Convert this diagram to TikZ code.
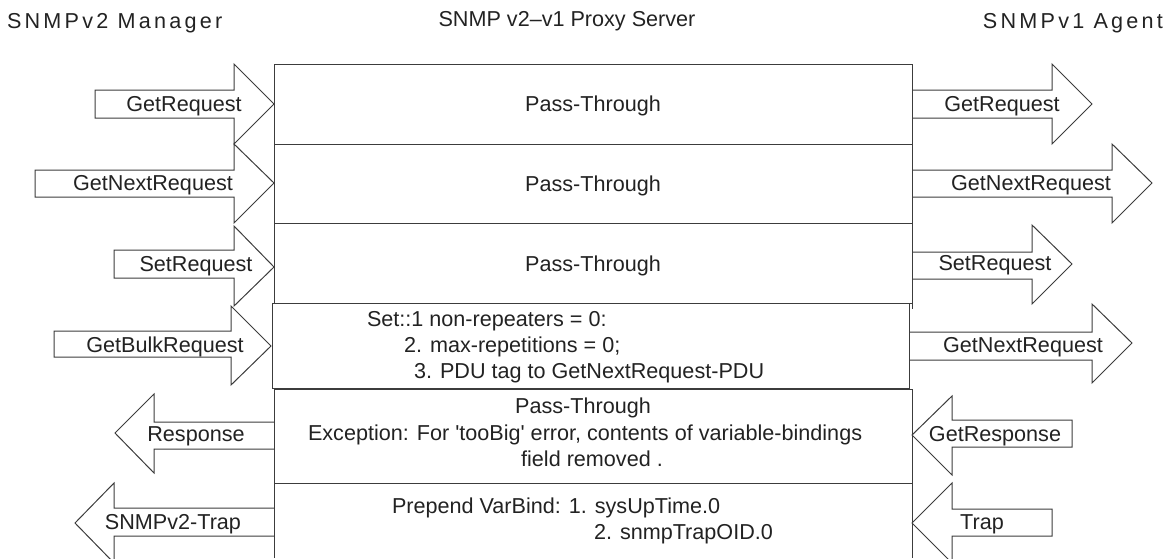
\documentclass[tikz,border=0pt]{standalone}
\usepackage{fontspec}
\setmainfont{Liberation Sans}
\newfontfamily\spacedfont[LetterSpace=15]{Liberation Sans}
\definecolor{ink}{HTML}{222222}
\definecolor{edge}{HTML}{3C3C3C}
\begin{document}
\begin{tikzpicture}[x=1pt,y=-1pt,
  every node/.style={inner sep=0pt,outer sep=0pt,text=ink,font=\fontsize{21.6}{26}\selectfont},
  line/.style={draw=edge,line width=1pt,line join=miter},
  lbl/.style={anchor=base},
  lft/.style={anchor=base west}]
\useasboundingbox (0,0) rectangle (1167,558);

% column headings
\node[lft,font=\fontsize{21.6}{26}\selectfont\spacedfont] (mgr) at (7,28) {SNMPv2 Manager};
\node[lbl] (proxy) at (567,26) {SNMP v2--v1 Proxy Server};
\node[anchor=base east,font=\fontsize{21.6}{26}\selectfont\spacedfont] (agt) at (1163,28) {SNMPv1 Agent};

% proxy rows
\draw[line] (274,64) rectangle (912,144);
\draw[line] (274,144) rectangle (912,223);
\draw[line] (274,223) -- (912,223) -- (912,309);
\draw[line] (274,223) -- (274,303);
\draw[line] (274,303) -- (912,303);
\draw[line] (272,303) rectangle (909,388);
\draw[line] (274,389) rectangle (912,483);
\draw[line] (274,558) -- (274,483) -- (912,483) -- (912,558);

\node[lbl] (p1) at (593,111) {Pass-Through};
\node[lbl] (p2) at (593,191) {Pass-Through};
\node[lbl] (p3) at (593,271) {Pass-Through};
\node[lft] (b1) at (367,326) {Set::1 non-repeaters = 0:};
\node[lft] (b2) at (404,352) {2. max-repetitions = 0;};
\node[lft] (b3) at (414,378) {3. PDU tag to GetNextRequest-PDU};
\node[lbl] (r1) at (583,413) {Pass-Through};
\node[lft] (r2) at (308,440) {Exception: For \textquotesingle tooBig\textquotesingle\ error, contents of variable-bindings};
\node[lbl] (r3) at (592,466) {field removed .};
\node[lft] (t1) at (392,513) {Prepend VarBind: 1. sysUpTime.0};
\node[lft] (t2) at (594,539) {2. snmpTrapOID.0};

% block arrows: manager -> proxy
\draw[line] (95,90) -- (234,90) -- (234,64) -- (274,104) -- (234,144) -- (234,118) -- (95,118) -- cycle;
\node[lbl] (m1) at (184,111) {GetRequest};
\draw[line] (35,170) -- (234,170) -- (234,144) -- (274,183) -- (234,223) -- (234,197) -- (35,197) -- cycle;
\node[lbl] (m2) at (153,190) {GetNextRequest};
\draw[line] (114,250) -- (234,250) -- (234,226) -- (274,267) -- (234,306) -- (234,278) -- (114,278) -- cycle;
\node[lbl] (m3) at (196,271) {SetRequest};
\draw[line] (54,331) -- (231,331) -- (231,306) -- (271,346) -- (231,385) -- (231,357) -- (54,357) -- cycle;
\node[lbl] (m4) at (165,352) {GetBulkRequest};

% block arrows: proxy -> agent
\draw[line] (912,90) -- (1052,90) -- (1052,64) -- (1092,104) -- (1052,144) -- (1052,118) -- (912,118);
\node[lbl] (a1) at (1002,111) {GetRequest};
\draw[line] (912,170) -- (1112,170) -- (1112,144) -- (1152,183) -- (1112,223) -- (1112,197) -- (912,197);
\node[lbl] (a2) at (1031,190) {GetNextRequest};
\draw[line] (912,252) -- (1032,252) -- (1032,225) -- (1072,264) -- (1032,304) -- (1032,279) -- (912,279);
\node[lbl] (a3) at (995,270) {SetRequest};
\draw[line] (909,332) -- (1092,332) -- (1092,304) -- (1132,343) -- (1092,383) -- (1092,360) -- (909,360);
\node[lbl] (a4) at (1023,352) {GetNextRequest};

% block arrows: proxy -> manager
\draw[line] (274,422) -- (154,422) -- (154,394) -- (115,433) -- (154,473) -- (154,449) -- (274,449);
\node[lbl] (m5) at (196,441) {Response};
\draw[line] (274,508) -- (114,508) -- (114,483) -- (75,523) -- (114,563) -- (114,536) -- (274,536);
\node[lbl] (m6) at (173,529) {SNMPv2-Trap};

% block arrows: agent -> proxy
\draw[line] (912,435) -- (952,396) -- (952,420) -- (1072,420) -- (1072,447) -- (952,447) -- (952,475) -- cycle;
\node[lbl] (a5) at (995,441) {GetResponse};
\draw[line] (912,523) -- (952,483) -- (952,509) -- (1052,509) -- (1052,536) -- (952,536) -- (952,563) -- cycle;
\node[lbl] (a6) at (982,529) {Trap};
\end{tikzpicture}
\end{document}
